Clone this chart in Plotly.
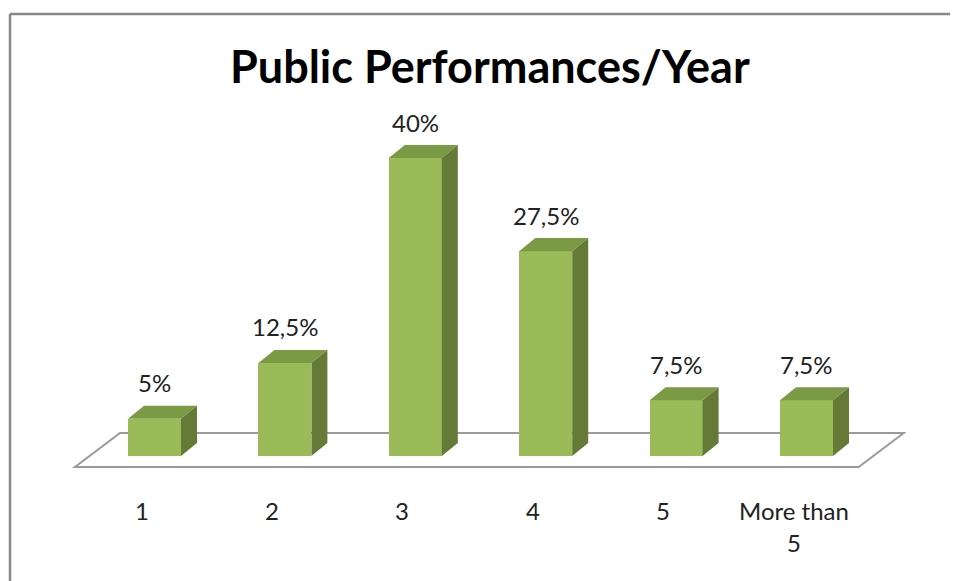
import plotly.graph_objects as go

categories = ["1", "2", "3", "4", "5", "More than<br>5"]
values = [5, 12.5, 40, 27.5, 7.5, 7.5]
title_text = "Public Performances/Year"

W, H = 958, 581
OFF = 8  # page body margin offset
# pixel geometry of the oblique projection (layout only)
c0_px, step_px = 154.5 - OFF, 130.4
base_py, px_per_pct = 456.0 - OFF, 7.45
bar_w = 53 / step_px
dx = 16 / step_px
dy = 13 / px_per_pct
label_dx = -13 / step_px

def X(px):
    return (px - OFF - c0_px) / step_px

def Y(py):
    return (base_py - (py - OFF)) / px_per_pct

def XR(px):  # raw figure pixel -> data
    return (px - c0_px) / step_px

def YR(py):
    return (base_py - py) / px_per_pct

front_col = "#9BBB59"
top_col = "#7B9A45"
side_col = "#667A38"

n = len(categories)
xs = list(range(n))
fig = go.Figure()

# front faces
fig.add_trace(go.Bar(x=xs, y=values, width=bar_w, marker=dict(color=front_col, line=dict(width=0)),
                     hoverinfo="skip", showlegend=False))

# top and side faces derived from values
for i, v in zip(xs, values):
    l, r = i - bar_w / 2, i + bar_w / 2
    fig.add_trace(go.Scatter(x=[l, l + dx, r + dx, r, l], y=[v, v + dy, v + dy, v, v],
                             fill="toself", fillcolor=top_col, mode="lines", line=dict(width=0, color=top_col),
                             hoverinfo="skip", showlegend=False))
    fig.add_trace(go.Scatter(x=[r, r + dx, r + dx, r, r], y=[0, dy, v + dy, v, 0],
                             fill="toself", fillcolor=side_col, mode="lines", line=dict(width=0, color=side_col),
                             hoverinfo="skip", showlegend=False))

# floor
fy0, fy1 = Y(467), Y(433)
fl0, fr0 = X(75), X(75) + (n - 1) + 1.01
fl1, fr1 = fl0 + (X(120) - X(75)), fr0 + (X(120) - X(75))
fig.add_shape(type="path", xref="x", yref="y", layer="below",
              path=f"M {fl0},{fy0} L {fr0},{fy0} L {fr1},{fy1} L {fl1},{fy1} Z",
              line=dict(color="#9a9a9a", width=2), fillcolor="rgba(0,0,0,0)")

# value labels
for i, v in zip(xs, values):
    txt = (f"{v:g}".replace(".", ",")) + "%"
    fig.add_annotation(x=i, y=v + dy, xref="x", yref="y", text=txt, showarrow=False,
                       yshift=23, font=dict(family="Lato", size=24, color="#222222"))

# category labels
for i, c in zip(xs, categories):
    for k, line in enumerate(c.split("<br>")):
        fig.add_annotation(x=i + label_dx, y=Y(510), xref="x", yref="y", text=line, showarrow=False,
                           yshift=-32 * k, font=dict(family="Lato", size=24, color="#222222"))

# title
fig.add_annotation(x=(490 - OFF) / W, y=1 - (66 - OFF) / H, xref="paper", yref="paper",
                   xanchor="center", yanchor="middle", text=f"<b>{title_text}</b>",
                   showarrow=False, font=dict(family="Lato", size=45, color="#000000"))

# border (left and top edges of the chart frame)
bx, by = (10 - OFF) / W, 1 - (14 - OFF) / H
fig.add_shape(type="line", xref="paper", yref="paper", x0=bx, x1=bx, y0=0, y1=by,
              line=dict(color="#888888", width=2.5), layer="below")
fig.add_shape(type="line", xref="paper", yref="paper", x0=bx, x1=1.0, y0=by, y1=by,
              line=dict(color="#888888", width=2.5), layer="below")

fig.update_layout(
    width=W, height=H, margin=dict(l=0, r=0, t=0, b=0),
    paper_bgcolor="white", plot_bgcolor="white",
    xaxis=dict(range=[XR(0), XR(W)], visible=False, fixedrange=True),
    yaxis=dict(range=[YR(H), YR(0)], visible=False, fixedrange=True),
    bargap=0, showlegend=False,
)
fig.write_html("out.html",
               post_script="document.documentElement.style.overflow='hidden';document.body.style.overflow='hidden';")
